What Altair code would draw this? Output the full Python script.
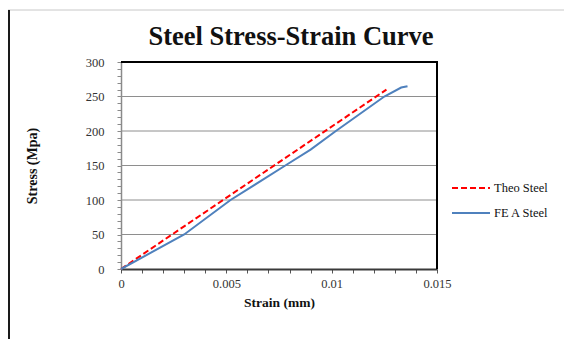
import altair as alt
import pandas as pd

# Data
theo_strain = [0.0, 0.0126]
theo_stress = [0, 260]
fea_strain = [0.0, 0.003, 0.0052, 0.0078, 0.009, 0.0102, 0.0125, 0.0133, 0.0136]
fea_stress = [0, 50, 100, 150, 173, 200, 250, 263, 265]
grid_values = [50, 100, 150, 200, 250]
y_ticks = list(range(0, 301, 10))
x_ticks = [i / 1000 for i in range(16)]
series_names = ["Theo Steel", "FE A Steel"]

FONT = "Liberation Serif"
W, H = 316, 207

df_theo = pd.DataFrame({"strain": theo_strain, "stress": theo_stress})
df_fea = pd.DataFrame({"strain": fea_strain, "stress": fea_stress})
df_grid = pd.DataFrame({"stress": grid_values})

xs = alt.Scale(domain=[0, 0.015], nice=False, zero=False)
ys = alt.Scale(domain=[0, 300], nice=False)

x_axis = alt.Axis(
    values=x_ticks, title="Strain (mm)",
    labelExpr="round(datum.value*1000) % 5 == 0 ? '' + round(datum.value*1000)/1000 : ''",
    tickSize=4, tickColor="#555555", domainColor="#3a3a3a", domainWidth=2,
    labelFont=FONT, labelFontSize=12.5, labelColor="#333333", labelPadding=4,
    titleFont=FONT, titleFontSize=13.5, titleFontWeight="bold", titleColor="#111111",
    titlePadding=6, grid=False, labelFlush=False,
)
y_axis = alt.Axis(
    values=y_ticks, title="Stress (Mpa)",
    labelExpr="datum.value % 50 == 0 ? datum.label : ''",
    tickSize=4, tickColor="#8a8a8a", domainColor="#8a8a8a", domainWidth=1.5,
    labelFont=FONT, labelFontSize=12.5, labelColor="#333333", labelPadding=13,
    titleFont=FONT, titleFontSize=14, titleFontWeight="bold", titleColor="#111111",
    titlePadding=46, grid=False,
)

grid = alt.Chart(df_grid).mark_rule(color="#8e8e8e", strokeWidth=1).encode(
    y=alt.Y("stress:Q", scale=ys, axis=y_axis)
)

theo = alt.Chart(df_theo).mark_line(color="#ff0000", strokeWidth=2, strokeDash=[6, 3]).encode(
    x=alt.X("strain:Q", scale=xs, axis=x_axis),
    y=alt.Y("stress:Q", scale=ys, axis=y_axis),
)
fea = alt.Chart(df_fea).mark_line(color="#4f81bd", strokeWidth=2).encode(
    x=alt.X("strain:Q", scale=xs, axis=x_axis),
    y=alt.Y("stress:Q", scale=ys, axis=y_axis),
)

top_border = alt.Chart().mark_rule(color="#000000", strokeWidth=2).encode(
    x=alt.value(0), x2=alt.value(W + 1), y=alt.value(0)
)
right_border = alt.Chart().mark_rule(color="#000000", strokeWidth=2).encode(
    x=alt.value(W), y=alt.value(0), y2=alt.value(H)
)

# outer frame of the figure
frame_left = alt.Chart().mark_rule(color="#1a1a1a", strokeWidth=2).encode(
    x=alt.value(-112), y=alt.value(-52), y2=alt.value(H + 80)
)
frame_top = alt.Chart().mark_rule(color="#c8c8c8", strokeWidth=1).encode(
    x=alt.value(-113), x2=alt.value(W + 140), y=alt.value(-52)
)

title = alt.Chart().mark_text(
    text="Steel Stress-Strain Curve", font=FONT, fontSize=26.5, fontWeight="bold",
    color="#111111", align="center", baseline="middle",
).encode(x=alt.value(170), y=alt.value(-25))

leg_red = alt.Chart().mark_rule(color="#ff0000", strokeWidth=2, strokeDash=[6, 3]).encode(
    x=alt.value(331), x2=alt.value(369), y=alt.value(126)
)
leg_blue = alt.Chart().mark_rule(color="#4f81bd", strokeWidth=2).encode(
    x=alt.value(331), x2=alt.value(369), y=alt.value(151)
)
leg_t1 = alt.Chart().mark_text(
    text=series_names[0], font=FONT, fontSize=12.5, color="#111111", align="left", baseline="middle"
).encode(x=alt.value(373), y=alt.value(126))
leg_t2 = alt.Chart().mark_text(
    text=series_names[1], font=FONT, fontSize=12.5, color="#111111", align="left", baseline="middle"
).encode(x=alt.value(373), y=alt.value(151))

chart = alt.layer(
    frame_top, frame_left, grid, theo, fea, top_border, right_border,
    title, leg_red, leg_blue, leg_t1, leg_t2,
).properties(
    width=W, height=H,
    padding={"left": 113, "top": 54, "right": 127, "bottom": 70},
    autosize=alt.AutoSizeParams(type="none"),
    background="white",
).configure_view(stroke=None)

chart.save("out.html", embed_options={"renderer": "svg", "actions": False})
